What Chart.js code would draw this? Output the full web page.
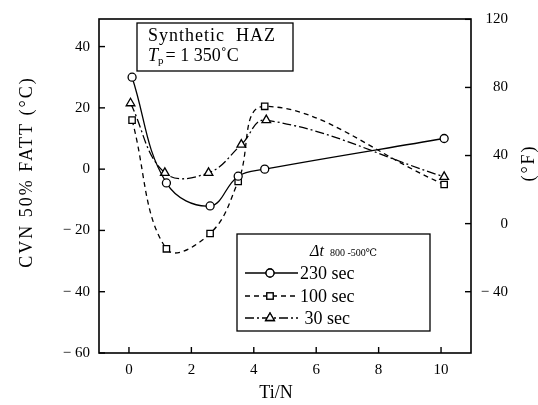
<!DOCTYPE html>
<html>
<head>
<meta charset="utf-8">
<script src="https://cdn.jsdelivr.net/npm/chart.js@4/dist/chart.umd.min.js"></script>
<style>
html,body{margin:0;padding:0;background:#fff;}
#wrap{width:538px;height:405px;position:relative;}
</style>
</head>
<body>
<div id="wrap"><canvas id="c" width="538" height="405"></canvas></div>
<script>
// ---- data ----
const seriesLabels = ['230 sec', '100 sec', ' 30 sec'];
const tiN230  = [0.1, 1.2, 2.6, 3.5, 4.35, 10.1];
const fatt230 = [30, -4.5, -12, -2.3, 0, 10];
const tiN100  = [0.1, 1.2, 2.6, 3.5, 4.35, 10.1];
const fatt100 = [16, -26, -21, -4, 20.5, -5];
const tiN30   = [0.05, 1.15, 2.55, 3.6, 4.4, 10.1];
const fatt30  = [21.5, -1.2, -1.2, 8, 16, -2.5];
const xTicks  = [0, 2, 4, 6, 8, 10];
const cTicks  = [-60, -40, -20, 0, 20, 40];
const fTicks  = [-40, 0, 40, 80, 120];

const SERIF = "'Liberation Serif', 'DejaVu Serif', serif";
const toPts = (xs, ys) => xs.map((x, i) => ({x: x, y: ys[i]}));
const fmt = v => v < 0 ? '\u2212 ' + Math.abs(v) : String(v);
const cMin = -60, cMax = 49;

function ds(label, xs, ys, style, dash) {
  return {
    label: label, data: toPts(xs, ys),
    borderColor: '#000', borderWidth: 1.3, borderDash: dash,
    backgroundColor: '#fff', pointStyle: style,
    pointRadius: style === 'triangle' ? 5 : (style === 'rect' ? 4.5 : 4),
    pointBorderWidth: 1.3, pointBorderColor: '#000', pointBackgroundColor: '#fff',
    tension: 0.4, fill: false, yAxisID: 'y'
  };
}

const frame = {
  id: 'frame',
  afterDraw(chart) {
    const ctx = chart.ctx, a = chart.chartArea;
    ctx.save();
    ctx.strokeStyle = '#000';
    ctx.lineWidth = 1.6;
    ctx.strokeRect(a.left, a.top, a.right - a.left, a.bottom - a.top);
    ctx.lineWidth = 1.4;
    const L = 6;
    const sx = chart.scales.x, sy = chart.scales.y, sf = chart.scales.y2;
    sx.ticks.forEach(t => { const p = sx.getPixelForValue(t.value); ctx.beginPath(); ctx.moveTo(p, a.bottom); ctx.lineTo(p, a.bottom - L); ctx.stroke(); });
    sy.ticks.forEach(t => { const p = sy.getPixelForValue(t.value); ctx.beginPath(); ctx.moveTo(a.left, p); ctx.lineTo(a.left + L, p); ctx.stroke(); });
    sf.ticks.forEach(t => { const p = sf.getPixelForValue(t.value); ctx.beginPath(); ctx.moveTo(a.right, p); ctx.lineTo(a.right - L, p); ctx.stroke(); });

    // axis titles
    ctx.fillStyle = '#000';
    ctx.font = '18px ' + SERIF;
    ctx.textAlign = 'center'; ctx.textBaseline = 'middle';
    try { ctx.letterSpacing = '2px'; } catch (e) {}
    ctx.save(); ctx.translate(27, 172); ctx.rotate(-Math.PI / 2); ctx.fillText('CVN 50% FATT (\u00B0C)', 0, 0); ctx.restore();
    ctx.save(); ctx.translate(529, 163); ctx.rotate(-Math.PI / 2); ctx.fillText('(\u00B0F)', 0, 0); ctx.restore();
    try { ctx.letterSpacing = '0px'; } catch (e) {}
    ctx.fillText('Ti/N', 276, 393);

    // annotation box
    ctx.lineWidth = 1.3;
    ctx.fillStyle = '#fff';
    ctx.fillRect(137, 23, 156, 48);
    ctx.strokeRect(137, 23, 156, 48);
    ctx.fillStyle = '#000';
    ctx.textAlign = 'left'; ctx.textBaseline = 'alphabetic';
    ctx.font = '18px ' + SERIF;
    try { ctx.letterSpacing = '1px'; } catch (e) {}
    ctx.fillText('Synthetic  HAZ', 148, 41);
    try { ctx.letterSpacing = '0px'; } catch (e) {}
    ctx.font = 'italic 18px ' + SERIF;
    ctx.fillText('T', 148, 61);
    let xx = 148 + ctx.measureText('T').width;
    ctx.font = '11px ' + SERIF;
    ctx.fillText('p', xx, 64);
    xx += ctx.measureText('p').width + 2;
    ctx.font = '18px ' + SERIF;
    ctx.fillText('= 1 350\u02DAC', xx, 61);

    // legend box
    ctx.fillStyle = '#fff';
    ctx.fillRect(237, 234, 193, 97);
    ctx.strokeRect(237, 234, 193, 97);
    ctx.fillStyle = '#000';
    ctx.font = 'italic 16px ' + SERIF;
    ctx.fillText('\u0394t', 310, 256);
    ctx.font = '10px ' + SERIF;
    ctx.fillText('800 -500\u2103', 330, 256);
    const rows = [273, 296, 318];
    chart.data.datasets.forEach((d, i) => {
      const yy = rows[i];
      ctx.save();
      ctx.lineWidth = d.borderWidth;
      ctx.setLineDash(d.borderDash || []);
      ctx.beginPath(); ctx.moveTo(245, yy); ctx.lineTo(298, yy); ctx.stroke();
      ctx.setLineDash([]);
      Chart.helpers.drawPoint(ctx, {pointStyle: d.pointStyle, radius: d.pointRadius, borderWidth: d.pointBorderWidth, rotation: 0}, 270, yy);
      ctx.fillStyle = '#fff';
      ctx.fill();
      ctx.stroke();
      ctx.restore();
      ctx.fillStyle = '#000';
      ctx.font = '18px ' + SERIF;
      ctx.textBaseline = 'middle';
      ctx.fillText(d.label, 300, yy + 1);
      ctx.textBaseline = 'alphabetic';
    });
    ctx.restore();
  }
};

new Chart(document.getElementById('c'), {
  type: 'line',
  data: {
    datasets: [
      ds(seriesLabels[0], tiN230, fatt230, 'circle', []),
      ds(seriesLabels[1], tiN100, fatt100, 'rect', [5, 4]),
      ds(seriesLabels[2], tiN30, fatt30, 'triangle', [9, 3, 2, 3])
    ]
  },
  options: {
    responsive: false, animation: false, devicePixelRatio: 1,
    layout: {padding: {top: 16, left: 0, right: 30, bottom: 0}},
    plugins: {legend: {display: false}, tooltip: {enabled: false}},
    scales: {
      x: {
        type: 'linear', position: 'bottom', min: -0.96, max: 10.96,
        grid: {display: false, drawTicks: false}, border: {display: false},
        afterBuildTicks: s => { s.ticks = xTicks.map(v => ({value: v})); },
        afterFit: s => { s.height = 52; },
        ticks: {padding: 8, color: '#000', font: {family: SERIF, size: 15}, maxRotation: 0}
      },
      y: {
        type: 'linear', position: 'left', min: cMin, max: cMax,
        grid: {display: false, drawTicks: false}, border: {display: false},
        afterBuildTicks: s => { s.ticks = cTicks.map(v => ({value: v})); },
        afterFit: s => { s.width = 99; },
        ticks: {padding: 9, color: '#000', font: {family: SERIF, size: 15}, callback: v => fmt(v)}
      },
      y2: {
        type: 'linear', position: 'right', min: cMin * 1.8 + 32, max: cMax * 1.8 + 32,
        grid: {display: false, drawTicks: false}, border: {display: false},
        afterBuildTicks: s => { s.ticks = fTicks.map(v => ({value: v})); },
        afterFit: s => { s.width = 37; },
        ticks: {padding: 10, crossAlign: 'far', color: '#000', font: {family: SERIF, size: 15}, callback: v => fmt(v)}
      }
    }
  },
  plugins: [frame]
});
</script>
</body>
</html>
